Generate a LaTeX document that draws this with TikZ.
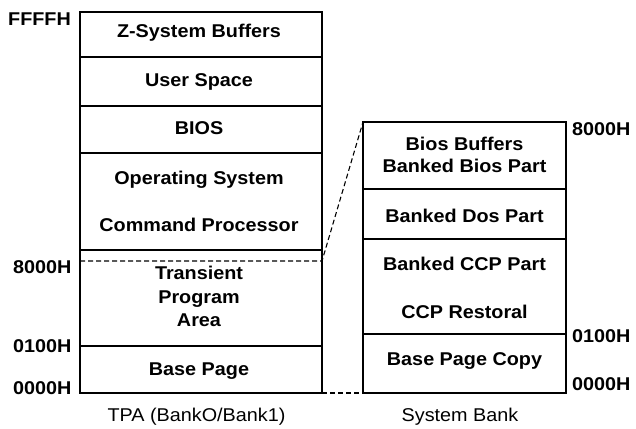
\documentclass[tikz,border=0pt]{standalone}
\usepackage{fontspec}
\setmainfont{Liberation Sans}[FakeStretch=1.07]
\begin{document}
\begin{tikzpicture}[x=1pt,y=-1pt,
  box/.style={draw,line width=1.2pt,inner sep=0pt,outer sep=0pt},
  txt/.style={font=\fontsize{18.5}{22}\selectfont\bfseries,anchor=base,inner sep=0pt},
  addr/.style={font=\fontsize{18.5}{22}\selectfont\bfseries,anchor=base west,inner sep=0pt},
  captxt/.style={font=\fontsize{18.5}{22}\selectfont,anchor=base,inner sep=0pt},
  link/.style={line width=1.1pt,dash pattern=on 5pt off 3pt}]
\useasboundingbox (0,0) rectangle (636,428);
% left column
\node[box,minimum width=242pt,minimum height=45pt] (zsb) at (201,34.5) {};
\node[box,minimum width=242pt,minimum height=49pt] (user) at (201,81.5) {};
\node[box,minimum width=242pt,minimum height=47pt] (bios) at (201,129.5) {};
\node[box,minimum width=242pt,minimum height=97pt] (os) at (201,201.5) {};
\node[box,minimum width=242pt,minimum height=96pt] (tpa) at (201,298) {};
\node[box,minimum width=242pt,minimum height=47pt] (base) at (201,369.5) {};
\node[txt] (t1) at (199,37.7) {Z-System Buffers};
\node[txt] (t2) at (199,86) {User Space};
\node[txt] (t3) at (199,134) {BIOS};
\node[txt] (t4) at (199,184) {Operating System};
\node[txt] (t5) at (199,231) {Command Processor};
\node[txt] (t6) at (199,279) {Transient};
\node[txt] (t7) at (199,303) {Program};
\node[txt] (t8) at (199,326) {Area};
\node[txt] (t9) at (199,375) {Base Page};
% right column
\node[box,minimum width=203pt,minimum height=67pt] (bb) at (464.5,155.5) {};
\node[box,minimum width=203pt,minimum height=50pt] (dos) at (464.5,214) {};
\node[box,minimum width=203pt,minimum height=95pt] (ccp) at (464.5,286.5) {};
\node[box,minimum width=203pt,minimum height=59pt] (bpc) at (464.5,363.5) {};
\node[txt] (r1) at (464.5,150) {Bios Buffers};
\node[txt] (r2) at (464.5,172) {Banked Bios Part};
\node[txt] (r3) at (464.5,222) {Banked Dos Part};
\node[txt] (r4) at (464.5,270) {Banked CCP Part};
\node[txt] (r5) at (464.5,318) {CCP Restoral};
\node[txt] (r6) at (464.5,365) {Base Page Copy};
% addresses
\node[addr] (a1) at (8,26) {FFFFH};
\node[addr] (a2) at (13,273) {8000H};
\node[addr] (a3) at (13,352) {0100H};
\node[addr] (a4) at (13,394) {0000H};
\node[addr] (b1) at (572,135) {8000H};
\node[addr] (b2) at (572,342) {0100H};
\node[addr] (b3) at (572,390) {0000H};
% captions
\node[captxt] (c1) at (196.5,421) {TPA (BankO/Bank1)};
\node[captxt] (c2) at (460,421) {System Bank};
% dashed links
\coordinate (m8l) at (80,261);
\coordinate (m8r) at (322,261);
\draw[link] (m8l) -- (m8r) -- (bb.north west);
\draw[link] (base.south east) -- (bpc.south west);
\end{tikzpicture}
\end{document}
